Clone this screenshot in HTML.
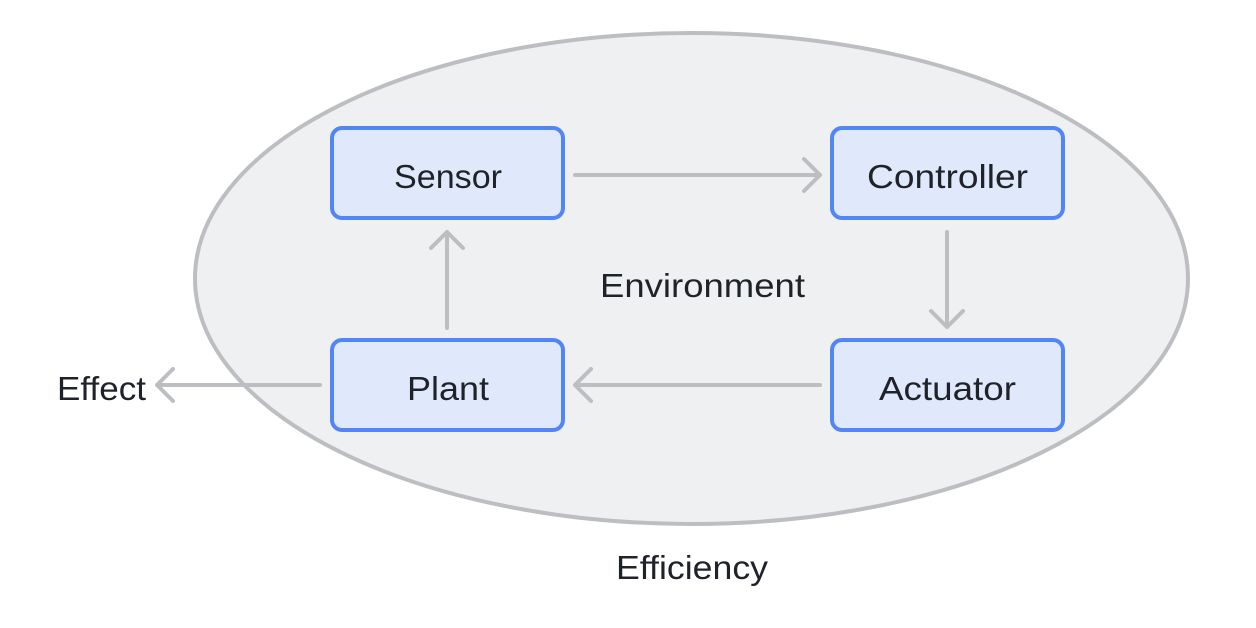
<!DOCTYPE html>
<html><head><style>
html,body{margin:0;padding:0;background:#fff;}
svg text{font-family:"Liberation Sans",sans-serif;fill:#1f2329;}
</style></head><body>
<svg width="1256" height="623" viewBox="0 0 1256 623" xmlns="http://www.w3.org/2000/svg">
<ellipse cx="691.5" cy="278.5" rx="496.5" ry="245.5" fill="#eff0f2" stroke="#bdbec2" stroke-width="4"/>
<g fill="#e0e9fc" stroke="#5286f6" stroke-width="4">
<rect x="332" y="128" width="231" height="90" rx="10"/>
<rect x="832" y="128" width="231" height="90" rx="10"/>
<rect x="332" y="340" width="231" height="90" rx="10"/>
<rect x="832" y="340" width="231" height="90" rx="10"/>
</g>
<g stroke="#bdbec2" stroke-width="4" fill="none" stroke-linecap="round" stroke-linejoin="round">
<path d="M575 175H820M804 159L820 175L804 191"/>
<path d="M947 232V327M931 311L947 327L963 311"/>
<path d="M820 385H575M591 369L575 385L591 401"/>
<path d="M447 328V232M431 248L447 232L463 248"/>
<path d="M320 385H157M173 369L157 385L173 401"/>
</g>
<g font-size="33">
<text x="394" y="188" textLength="108" lengthAdjust="spacingAndGlyphs">Sensor</text>
<text x="867" y="188" textLength="161" lengthAdjust="spacingAndGlyphs">Controller</text>
<text x="407" y="400" textLength="82" lengthAdjust="spacingAndGlyphs">Plant</text>
<text x="879" y="400" textLength="137" lengthAdjust="spacingAndGlyphs">Actuator</text>
<text x="600" y="297" textLength="205" lengthAdjust="spacingAndGlyphs">Environment</text>
<text x="616" y="579" textLength="152" lengthAdjust="spacingAndGlyphs">Efficiency</text>
<text x="57" y="400" textLength="89" lengthAdjust="spacingAndGlyphs">Effect</text>
</g>
</svg>
</body></html>
